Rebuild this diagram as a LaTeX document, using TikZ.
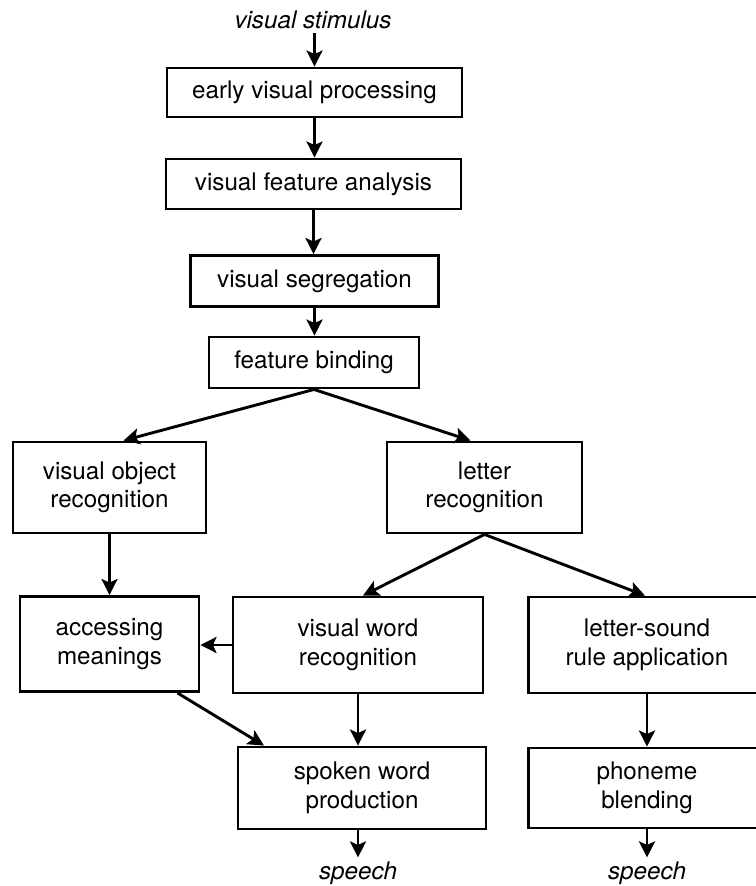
\documentclass[tikz,border=0pt]{standalone}
\usepackage{fontspec}
\setmainfont{TeX Gyre Heros}
\usetikzlibrary{arrows.meta,calc}
\begin{document}
\begin{tikzpicture}[x=1pt,y=-1pt,
  box/.style={draw,line width=2.9pt,align=center,inner sep=0pt,font=\fontsize{24.2}{28.5}\selectfont},
  lbl/.style={font=\fontsize{24.2}{28.5}\selectfont\itshape,inner sep=4pt},
  arr/.style={line width=2.9pt,-{Stealth[length=16pt,width=16pt,inset=3.5pt]}}]
\useasboundingbox (0,0) rectangle (755,886);
\node[lbl] (stim) at (313,20) {visual stimulus};
\node[box,minimum width=295pt,minimum height=49pt] (evp) at (314.5,92.5) {early visual processing};
\node[box,minimum width=295pt,minimum height=50pt] (vfa) at (313.5,184) {visual feature analysis};
\node[box,minimum width=248pt,minimum height=51pt] (vs) at (314.5,281) {visual segregation};
\node[box,minimum width=210pt,minimum height=51pt] (fb) at (314,362.5) {feature binding};
\node[box,minimum width=193pt,minimum height=91pt] (vor) at (109.5,487.5) {visual object\\recognition};
\node[box,minimum width=195pt,minimum height=91pt] (lr) at (484.5,487.5) {letter\\recognition};
\node[box,minimum width=179pt,minimum height=95pt] (am) at (109.5,644) {accessing\\meanings};
\node[box,minimum width=250pt,minimum height=96pt] (vwr) at (358,645) {visual word\\recognition};
\node[box,minimum width=237pt,minimum height=96pt] (lsr) at (647,645) {letter-sound\\rule application};
\node[box,minimum width=248pt,minimum height=82pt] (swp) at (362,788) {spoken word\\production};
\node[box,minimum width=237pt,minimum height=80pt] (pb) at (647,788) {phoneme\\blending};
\node[lbl] (sp1) at (358,873) {speech};
\node[lbl] (sp2) at (647,873) {speech};
\draw[arr] (stim.south -| evp.north) -- (evp.north);
\draw[arr] (evp.south) -- (evp.south |- vfa.north);
\draw[arr] (vfa.south) -- (vfa.south |- vs.north);
\draw[arr] (vs.south) -- (vs.south |- fb.north);
\draw[arr] (fb.south) -- ($(vor.north)+(14,0)$);
\draw[arr] (fb.south) -- ($(lr.north)+(-14,0)$);
\draw[arr] (vor.south) -- (vor.south |- am.north);
\draw[arr] (lr.south) -- ($(vwr.north)+(5,0)$);
\draw[arr] (lr.south) -- ($(lsr.north)+(-2,0)$);
\draw[arr] (vwr.west) -- (vwr.west -| am.east);
\draw[arr] ($(am.south)+(68,0)$) -- ($(swp.north)+(-98,0)$);
\draw[arr] (vwr.south) -- (vwr.south |- swp.north);
\draw[arr] (swp.south -| vwr.south) -- (sp1.north);
\draw[arr] (lsr.south) -- (pb.north);
\draw[arr] (pb.south) -- (sp2.north);
\end{tikzpicture}
\end{document}
